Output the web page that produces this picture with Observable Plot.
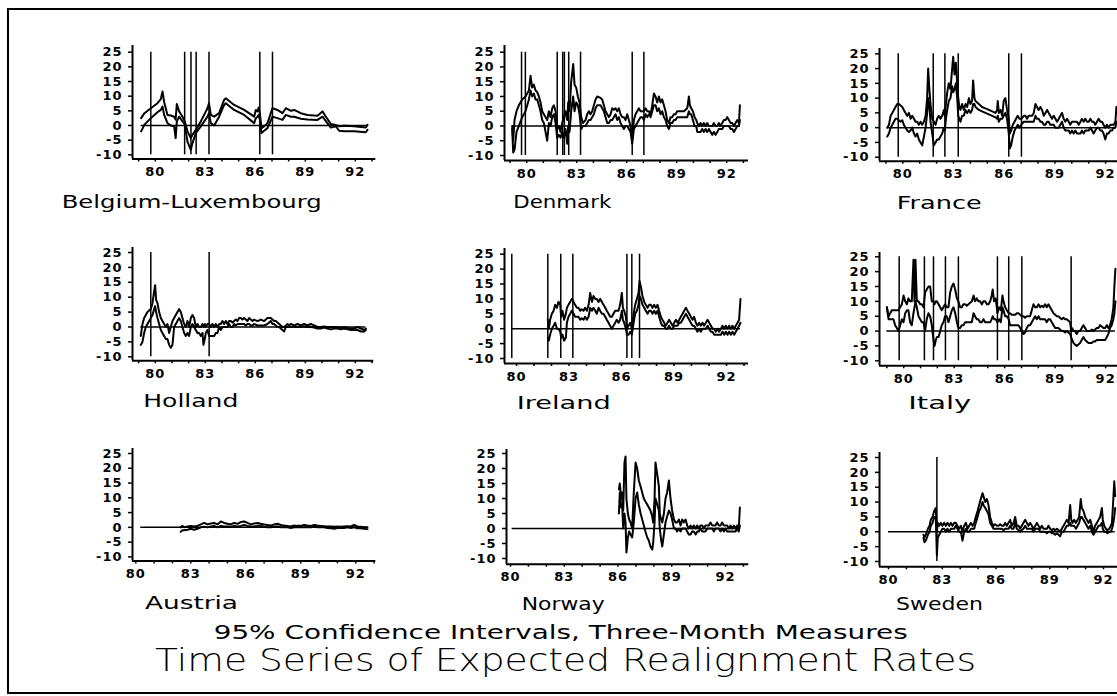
<!DOCTYPE html>
<html>
<head>
<meta charset="utf-8">
<script src="https://cdn.jsdelivr.net/npm/d3@7"></script>
<script src="https://cdn.jsdelivr.net/npm/@observablehq/plot@0.6"></script>
<style>
html, body { margin: 0; padding: 0; background: #fff; }
#page { position: relative; width: 1117px; height: 696px; overflow: hidden; background: #fff; }
#page svg { position: absolute; }
</style>
</head>
<body>
<div id="page"></div>
<script>
// ---------- DATA: rows are [year, lower bound, upper bound] ----------
const belgium = [[1979.15,-2.0,2.5],[1979.35,0.3,4.2],[1979.73,2.5,5.9],[1980.13,4.5,7.6],[1980.33,5.3,9.0],[1980.43,6.5,11.6],[1980.53,3.6,8.0],[1980.73,0.8,3.6],[1980.93,0.0,3.4],[1981.13,-0.3,3.0],[1981.22,-4.3,2.0],[1981.29,1.4,7.3],[1981.43,3.0,4.8],[1981.63,1.4,3.0],[1981.76,0.5,1.5],[1981.93,-5.5,-2.0],[1982.13,-8.3,-4.3],[1982.23,-6.0,-3.2],[1982.43,-2.6,-1.5],[1982.73,-0.3,1.4],[1983.13,3.0,5.9],[1983.22,4.2,7.6],[1983.33,0.8,3.6],[1983.53,0.0,3.0],[1983.83,3.0,4.2],[1984.13,7.0,8.8],[1984.23,7.6,9.3],[1984.73,5.3,7.0],[1985.33,3.6,5.3],[1985.93,0.8,3.0],[1986.03,2.5,5.3],[1986.13,3.0,4.8],[1986.2,3.6,6.1],[1986.27,2.0,4.2],[1986.37,-2.6,-0.9],[1986.53,-1.8,-0.3],[1986.73,-0.9,0.8],[1987.03,3.0,5.9],[1987.33,2.5,5.3],[1987.63,1.9,4.2],[1987.83,3.6,5.9],[1988.13,3.0,5.0],[1988.33,3.0,5.3],[1988.73,2.3,4.2],[1989.13,2.0,3.6],[1989.73,1.9,3.3],[1990.03,3.0,4.8],[1990.23,1.5,3.0],[1990.53,-0.7,0.5],[1990.83,-0.3,0.2],[1991.03,-1.8,-0.3],[1991.33,-2.0,-0.1],[1991.93,-2.0,-0.3],[1992.63,-2.3,-0.7],[1992.73,-1.5,0.2]];

const denmark = [[1979.13,-1,0],[1979.19,-9,-5],[1979.27,-8,2],[1979.39,-2,5],[1979.53,0,7],[1979.73,3,9],[1979.93,5,10],[1980.13,9,12],[1980.23,12,17],[1980.33,10,13],[1980.43,11,14],[1980.53,9,12],[1980.63,9,11.5],[1980.73,7,10],[1980.83,5,8],[1980.93,2,5],[1981.03,1,4],[1981.13,-2,3],[1981.23,-5,2],[1981.33,1,5],[1981.43,0,3],[1981.53,3,6],[1981.63,4,7],[1981.73,1,5],[1981.83,-4,-1],[1981.93,-3,0],[1982.03,-4,-2],[1982.13,-2,1],[1982.23,-4,3],[1982.33,-1,5],[1982.43,-6,2],[1982.49,0,8],[1982.57,-2,5],[1982.67,5,15],[1982.79,10,21],[1982.87,5,14],[1982.97,8,13],[1983.07,7,10],[1983.17,4,8],[1983.27,-1,3],[1983.37,0,1],[1983.53,0,2],[1983.63,1,4],[1983.73,2,5],[1983.83,2,4],[1983.93,3,5],[1984.03,4,7],[1984.13,6,9],[1984.23,7,10],[1984.43,7,9.5],[1984.53,6,9],[1984.63,5,7],[1984.73,3,5],[1984.83,1,4],[1984.93,1,3],[1985.03,2,4],[1985.13,2,6],[1985.23,3,5.5],[1985.33,4,6],[1985.43,2,5],[1985.53,3,6],[1985.63,1,4],[1985.73,0,3],[1985.83,-1,3],[1985.93,0,2],[1986.03,0,4],[1986.13,-1,2],[1986.23,-2,0],[1986.33,-6,-4],[1986.43,-1,2],[1986.53,0,4],[1986.63,1,5],[1986.73,2,6],[1986.83,3,5],[1986.93,3,5],[1987.03,2,5],[1987.13,4,6],[1987.23,3,5],[1987.33,4,5],[1987.43,3,4],[1987.53,5,7],[1987.63,7,11],[1987.73,7,10],[1987.83,5,8],[1987.93,6,10],[1988.03,4,8],[1988.13,5,9],[1988.23,3,7],[1988.33,2,5],[1988.43,0,2],[1988.53,-1,1],[1988.63,1,3],[1988.73,1,3],[1988.83,2,4],[1988.93,2,4],[1989.03,3,5],[1989.23,3,5],[1989.43,3,5],[1989.63,3,6],[1989.73,5,10],[1989.79,4,7],[1989.87,4,6],[1989.97,2,5],[1990.07,0,3],[1990.17,0,2],[1990.23,-2,1],[1990.33,-2,0],[1990.43,-2,1],[1990.53,-1,0],[1990.63,-2,1],[1990.73,-1,0],[1990.83,-2,1],[1990.93,-1,0],[1991.03,-2,0],[1991.13,-3,0],[1991.23,-2,1],[1991.33,-3,0],[1991.43,-2,0],[1991.53,-1,1],[1991.63,-1,0],[1991.73,-1,1],[1991.83,0,2],[1991.93,0,2],[1992.03,0,3],[1992.13,0,2],[1992.23,-1,1],[1992.33,-1,1],[1992.43,-2,0],[1992.53,-1,1],[1992.63,0,2],[1992.73,0,1],[1992.79,2,7]];

const france = [[1979.08,-3,0],[1979.18,-2,1],[1979.28,0,4],[1979.38,1,5],[1979.47,2,6],[1979.57,3,7],[1979.67,3,8],[1979.77,2.5,8],[1979.87,2,7.5],[1979.97,2.5,7],[1980.06,1,6],[1980.16,0,5],[1980.26,-1,4],[1980.36,-1.5,5],[1980.46,-1,3],[1980.56,0,4],[1980.66,-2,3],[1980.75,-3,2],[1980.85,-2,2],[1980.95,-4,1],[1981.05,-5,2],[1981.15,-6,1],[1981.25,-3,2],[1981.35,0,4],[1981.44,5,10],[1981.50,10,20],[1981.56,8,14],[1981.64,2,8],[1981.74,-2,3],[1981.84,-6,2],[1981.94,-5,1],[1982.03,-4,3],[1982.13,-4,4],[1982.23,-3,3],[1982.33,-2,4],[1982.43,0,6],[1982.49,-1,4],[1982.55,3,8],[1982.63,6,12],[1982.72,9,15],[1982.82,10,13],[1982.92,14,20],[1982.98,12,24],[1983.06,13,18],[1983.14,15,22],[1983.22,10,15],[1983.28,4,10],[1983.35,3,7],[1983.41,2,6],[1983.51,4,8],[1983.61,4,6],[1983.71,6,8],[1983.81,5,7],[1983.91,6,10],[1984.00,5,8],[1984.10,6,9],[1984.16,8,16],[1984.24,8,10],[1984.30,7,9],[1984.50,6,8],[1984.69,5.5,7],[1984.89,5,6.5],[1985.09,4.5,6],[1985.29,4,5.5],[1985.48,3.5,5],[1985.58,3,6],[1985.62,4,9],[1985.68,2,5],[1985.78,3,6],[1985.88,3,4],[1985.97,4,9],[1986.07,5,10],[1986.17,3,6],[1986.27,-2,3],[1986.33,-7,-2],[1986.41,-6,-1],[1986.51,-3,1],[1986.61,-1,2],[1986.70,0,3],[1986.80,1,4],[1986.90,0,3],[1987.02,1,3],[1987.16,2,4],[1987.26,2,4],[1987.35,2,3],[1987.45,2,4],[1987.55,2,4],[1987.65,2,4],[1987.75,2,5],[1987.85,4,8],[1987.94,3,7],[1988.04,3,6],[1988.14,2,7],[1988.24,2,6],[1988.34,1,4],[1988.44,1,5],[1988.54,2,6],[1988.63,2,5],[1988.73,1,4],[1988.83,1,3],[1988.93,1,4],[1989.03,0,3],[1989.13,0,2],[1989.23,0,3],[1989.32,1,4],[1989.42,2,5],[1989.52,0,3],[1989.62,-1,2],[1989.72,-1,3],[1989.82,-1,2],[1989.91,-2,1],[1990.01,-1,2],[1990.11,-2,2],[1990.21,-1,2],[1990.31,-2,2],[1990.41,-2,1],[1990.51,-2,2],[1990.60,-1,3],[1990.70,-2,2],[1990.80,-1,3],[1990.90,-1,2],[1991.00,-1,2],[1991.10,0,3],[1991.20,-1,2],[1991.29,-2,2],[1991.39,-1,1],[1991.49,0,2],[1991.59,0,3],[1991.69,-1,2],[1991.79,-1,2],[1991.88,-2,1],[1991.98,-4,0],[1992.08,-2,1],[1992.18,-2,0],[1992.28,-1,1],[1992.38,-1,1],[1992.48,0,1],[1992.58,0,2],[1992.64,2,7]];

const holland = [[1979.13,-6,-3],[1979.23,-5,1],[1979.33,-2,3],[1979.43,0,4],[1979.53,1,5],[1979.63,2,5.5],[1979.73,3,6],[1979.83,4,8],[1979.93,6,12],[1979.99,7,14],[1980.05,5,9],[1980.13,3,8],[1980.23,1,5],[1980.33,-1,3],[1980.43,-2,2],[1980.53,-3,1],[1980.63,-4,0],[1980.73,-4,1],[1980.83,-6,-2],[1980.93,-7,0],[1981.03,-6,2],[1981.13,0,3],[1981.23,1,4],[1981.33,2,5],[1981.43,3,6],[1981.53,2,5],[1981.63,0,3],[1981.73,-2,1],[1981.83,-3,0],[1981.93,-2,2],[1982.03,-3,0],[1982.13,0,3],[1982.23,1,4],[1982.33,0,3],[1982.43,-1,0],[1982.53,-2,1],[1982.63,-2,0],[1982.73,-3,0],[1982.83,-2,1],[1982.89,-6,0],[1982.97,-4,1],[1983.03,-2,0],[1983.13,-1,1],[1983.23,-3,1],[1983.33,-3,0],[1983.43,-3,1],[1983.53,-3,0],[1983.63,-2,1],[1983.73,-2,0],[1983.83,0,1],[1983.93,-1,1],[1984.03,0,2],[1984.13,0,1],[1984.23,0,2],[1984.33,0,1],[1984.43,1,2],[1984.53,0,2],[1984.63,0,1.5],[1984.73,1,2],[1984.83,0.5,2.5],[1984.93,1,2],[1985.03,1,3],[1985.13,1,3],[1985.23,1,2.5],[1985.33,1,3],[1985.43,0.5,2.5],[1985.53,1,2],[1985.63,1,3],[1985.73,0.5,2.5],[1985.83,0.5,2],[1985.93,1,2.5],[1986.13,0.5,2],[1986.33,0.5,2.5],[1986.53,0.5,2],[1986.73,1,3],[1986.83,1.5,3],[1986.93,2,3],[1987.03,1,2.5],[1987.13,1,2],[1987.23,0.5,2],[1987.33,0,1.5],[1987.43,0,1],[1987.53,-0.5,0.5],[1987.63,-1,0],[1987.73,-1.5,0],[1987.83,0,0.5],[1987.93,0,1],[1988.03,0,0.5],[1988.13,0,1],[1988.33,0,0.5],[1988.53,0,1],[1988.73,0,0.5],[1988.93,0.2,1],[1989.13,0,0.5],[1989.33,0,1],[1989.53,-0.2,0.5],[1989.73,-0.5,0],[1989.93,-0.5,0],[1990.13,-0.2,0.2],[1990.33,-0.5,0],[1990.53,-0.8,0],[1990.73,-0.5,0],[1990.93,-0.5,0],[1991.13,-0.8,-0.3],[1991.33,-0.5,0],[1991.53,-0.8,-0.3],[1991.73,-1,-0.5],[1991.93,-1,-0.5],[1992.13,-1,0],[1992.33,-1.5,-0.5],[1992.53,-1.5,-1],[1992.63,-1,-0.5]];

const ireland = [[1981.79,-3,3],[1981.85,-4,0],[1981.92,-2,3],[1982.02,0,5],[1982.12,1,6],[1982.21,2,8],[1982.31,0,7],[1982.40,0,9],[1982.50,-1,8],[1982.55,-3,4],[1982.63,-2,6],[1982.72,-4,3],[1982.82,-3,5],[1982.88,2,7],[1982.97,4,8],[1983.07,5,9],[1983.16,6,10],[1983.26,5,9],[1983.35,4,8],[1983.45,4,7],[1983.54,4,7],[1983.64,3,6],[1983.73,3.5,6.5],[1983.83,3,6],[1983.92,4,7],[1984.02,3,6],[1984.12,4,8],[1984.21,7,12],[1984.31,6,9],[1984.40,7,11],[1984.50,6,10],[1984.59,5,10],[1984.69,7,9],[1984.78,6,10],[1984.88,5,9],[1984.97,5,8],[1985.07,4,7],[1985.16,3,6],[1985.26,2,5],[1985.35,1,4],[1985.45,0,4],[1985.54,1,5],[1985.64,2,6],[1985.73,3,6],[1985.83,2,6],[1985.92,3,8],[1986.02,6,12],[1986.08,3,7],[1986.15,2,6],[1986.25,0,4],[1986.31,-2,0],[1986.40,-2,1],[1986.50,-1,2],[1986.59,-2,0],[1986.69,2,5],[1986.78,5,8],[1986.88,6,10],[1986.97,8,12],[1987.03,11,16],[1987.11,10,14],[1987.20,8,11],[1987.30,7,9],[1987.39,6,8],[1987.49,5,7],[1987.58,6,8],[1987.68,6,8],[1987.77,5,7],[1987.87,6,8],[1987.96,5,7],[1988.06,6,8],[1988.15,4,6],[1988.25,2,4],[1988.34,1,3],[1988.44,1,2],[1988.53,0,1],[1988.63,0,2],[1988.72,1,3],[1988.82,0,2],[1988.92,0,1],[1989.01,1,2],[1989.11,1,3],[1989.20,1,2],[1989.30,2,3],[1989.39,2,4],[1989.49,3,5],[1989.58,4,6],[1989.68,5,7],[1989.77,4,6],[1989.87,3,5],[1989.96,2,4],[1990.06,1,3],[1990.15,1,4],[1990.25,0,2],[1990.34,-1,1],[1990.44,0,2],[1990.53,-1,1],[1990.63,0,2],[1990.72,0,1],[1990.82,0,2],[1990.92,1,3],[1991.01,0,2],[1991.11,-1,1],[1991.20,-1,0],[1991.30,-2,0],[1991.39,-2,-1],[1991.49,-2,0],[1991.58,-2,-1],[1991.68,-2,0],[1991.77,-1,1],[1991.87,-2,0],[1991.96,-1,1],[1992.06,-2,0],[1992.15,-1,1],[1992.25,-2,0],[1992.34,-1,1],[1992.44,-2,0],[1992.53,-1,1],[1992.63,0,2],[1992.72,1,3],[1992.80,2,10]];

const italy = [[1979.00,8,8],[1979.10,4,5],[1979.20,4,6],[1979.29,4,7],[1979.39,4,7],[1979.49,2,7],[1979.59,1,7],[1979.69,0,7],[1979.79,2,8],[1979.89,4,9],[1979.99,3,12],[1980.09,6,10],[1980.19,7,9],[1980.28,7,11],[1980.38,3,10],[1980.48,2,10],[1980.58,6,24],[1980.64,8,10],[1980.70,10,24],[1980.78,8,10],[1980.88,5,10],[1980.98,4,9],[1981.08,3,9],[1981.18,3,8],[1981.27,0,13],[1981.37,4,14],[1981.47,6,15],[1981.57,5,15],[1981.67,2,10],[1981.77,-3,10],[1981.83,-5,9],[1981.91,-3,10],[1981.97,-2,10],[1982.07,-2,9],[1982.17,0,8],[1982.26,2,7],[1982.36,3,8],[1982.46,5,9],[1982.56,5,8],[1982.66,3,8],[1982.76,5,13],[1982.86,7,15],[1982.96,8,16],[1983.06,6,14],[1983.16,3,11],[1983.25,1,10],[1983.35,1,8],[1983.45,2,8],[1983.55,2,9],[1983.65,3,9],[1983.75,3,8.5],[1983.85,3,9],[1983.95,3,9.5],[1984.05,3,10],[1984.15,6,12],[1984.24,5,10],[1984.34,4,11],[1984.44,4,10],[1984.54,3,10],[1984.64,3,9],[1984.74,4,10],[1984.84,3,10],[1984.94,3,9],[1985.04,3,9],[1985.14,3,10],[1985.23,4,12],[1985.29,5,14],[1985.37,4,10],[1985.47,4,11],[1985.57,3,6],[1985.67,4,8],[1985.77,3,7],[1985.87,8,12],[1985.93,7,10],[1986.03,5,8],[1986.13,5,7],[1986.24,4,6],[1986.32,2,6],[1986.42,2,5.5],[1986.52,2,5.5],[1986.62,2,5.5],[1986.72,2,6],[1986.82,2,6],[1986.92,1,5.5],[1987.02,0,5],[1987.12,-1,5],[1987.21,-0.5,4.5],[1987.31,1,5],[1987.41,2,5],[1987.51,2,5],[1987.61,3,7],[1987.71,4,9],[1987.81,5,8],[1987.91,4,8],[1988.01,5,9],[1988.11,4,8],[1988.20,4,8.5],[1988.30,4,8],[1988.40,4,9],[1988.50,3,8],[1988.60,4,9],[1988.70,4,8],[1988.80,3,7],[1988.90,2,6],[1989.00,1,5.5],[1989.10,1,5],[1989.19,1,5],[1989.29,0.5,4.5],[1989.39,0,4],[1989.49,0,4.5],[1989.59,-0.5,4],[1989.69,0,4],[1989.79,-0.5,3.5],[1989.89,-1,3],[1989.95,-2,0],[1990.01,-3,1],[1990.09,-4,0],[1990.18,-4.5,0],[1990.28,-5,-1],[1990.38,-4.5,0],[1990.48,-4,0],[1990.58,-3,1],[1990.68,-2,2],[1990.78,-3,1],[1990.88,-3.5,0],[1990.98,-4,0],[1991.08,-4,0],[1991.17,-4,0.5],[1991.27,-3.5,0],[1991.37,-3.5,0.5],[1991.47,-3,1],[1991.57,-3,1],[1991.67,-3,2],[1991.77,-3,1.5],[1991.87,-3,1],[1991.97,-3,1],[1992.07,-2,2],[1992.16,-1,1],[1992.26,1,2],[1992.36,2,4],[1992.46,4,8],[1992.52,6,15],[1992.58,10,21]];

const austria = [[1982.45,-1.5,0],[1982.55,-1,0.5],[1982.64,-1,0],[1982.82,-0.8,0.3],[1983.00,-0.5,0.5],[1983.18,-0.8,0.3],[1983.36,-0.5,0.5],[1983.55,0,1],[1983.73,0.2,1.5],[1983.91,0,1],[1984.09,0.3,1.3],[1984.27,0.5,1.5],[1984.45,0,1],[1984.64,0.5,2],[1984.82,0.3,1.5],[1985.00,0.3,1.2],[1985.18,0.2,1],[1985.36,0.5,1.5],[1985.55,0.3,1.2],[1985.73,0.5,1.8],[1985.91,0.8,2],[1986.09,0.5,1.5],[1986.27,0.3,1],[1986.45,0.3,1.3],[1986.64,0.5,1.5],[1986.82,0.5,1.2],[1987.00,0.2,1],[1987.18,0,0.8],[1987.36,0,0.6],[1987.55,0.2,1],[1987.73,0.3,1.2],[1987.91,0,0.8],[1988.09,0,0.6],[1988.27,0,0.5],[1988.45,-0.2,0.3],[1988.64,0,0.6],[1988.82,0,0.5],[1989.00,0,0.5],[1989.18,0,0.8],[1989.36,0,0.6],[1989.55,0,0.5],[1989.73,0.2,0.8],[1989.91,0,0.6],[1990.09,0,0.5],[1990.27,0,0.4],[1990.45,-0.2,0.3],[1990.64,-0.3,0.3],[1990.82,-0.5,0.2],[1991.00,-0.2,0.3],[1991.18,-0.2,0.2],[1991.36,-0.2,0.3],[1991.55,0,0.4],[1991.73,-0.2,0.3],[1991.91,0,0.8],[1992.09,-0.3,0.3],[1992.27,-0.3,0.2],[1992.45,-0.5,0],[1992.64,-0.6,0]];

const norway = [[1986.05,5,13],[1986.10,12,15],[1986.18,7,10],[1986.23,8,12],[1986.29,0,6],[1986.36,5,22],[1986.42,2,24],[1986.47,-8,10],[1986.55,-3,5],[1986.62,-1,3],[1986.70,-2,2],[1986.79,-3,0],[1986.88,2,12],[1986.98,10,22],[1987.07,12,20],[1987.16,8,16],[1987.26,5,14],[1987.35,3,12],[1987.44,1,10],[1987.53,-1,9],[1987.63,-3,8],[1987.72,-4,7],[1987.81,-6,6],[1987.91,-7,4],[1987.96,-5,2],[1988.04,2,10],[1988.09,10,22],[1988.19,8,18],[1988.28,6,14],[1988.33,0,5],[1988.41,-4,3],[1988.47,-6,2],[1988.56,-2,5],[1988.65,2,10],[1988.74,4,12],[1988.84,6,16],[1988.93,5,10],[1989.02,3,6],[1989.12,0,3],[1989.21,0,2],[1989.30,-1,2],[1989.40,0,3],[1989.49,-1,1],[1989.58,0,3],[1989.67,0,2],[1989.77,0,3],[1989.86,-1,1],[1989.95,-2,0],[1990.05,-2,1],[1990.14,-1,0],[1990.23,-1,1],[1990.33,-2,0],[1990.42,-1,1],[1990.51,-1,0],[1990.60,0,1],[1990.70,-1,1],[1990.79,-1,0],[1990.88,-1,1],[1990.98,0,1],[1991.07,0,1],[1991.16,0,2],[1991.26,0,1],[1991.35,-1,1],[1991.44,0,1],[1991.53,0,2],[1991.63,0,1],[1991.72,-1,1],[1991.81,0,2],[1991.91,-1,1],[1992.00,0,1],[1992.09,-1,1],[1992.19,-1,0],[1992.28,-1,1],[1992.37,-1,0],[1992.47,-1,1],[1992.56,-1,0],[1992.65,0,1],[1992.74,-1,0],[1992.80,1,7]];

const sweden = [[1981.95,-2,-1],[1982.01,-3.5,-2],[1982.08,-3,-1],[1982.14,-2,0],[1982.20,-1,1],[1982.29,0,2],[1982.36,2,4],[1982.46,3,5],[1982.55,5,7],[1982.64,5,8],[1982.70,-8,0],[1982.75,-2,3],[1982.83,-1,2],[1982.92,0,3],[1983.01,1,2],[1983.11,1,3],[1983.20,0,2],[1983.29,1,3],[1983.39,0,2],[1983.48,1,3],[1983.57,1,2],[1983.67,1,3],[1983.76,2,3],[1983.85,1,2],[1983.94,0,1],[1984.04,0,2],[1984.13,-3,0],[1984.22,0,2],[1984.32,1,3],[1984.41,0,1],[1984.50,0,2],[1984.60,1,3],[1984.69,1,2],[1984.78,1,3],[1984.87,3,5],[1984.97,5,7],[1985.06,7,9],[1985.15,8,11],[1985.25,10,13],[1985.30,9,12],[1985.40,8,10],[1985.49,7,11],[1985.58,6,9],[1985.67,3,5],[1985.77,2,3],[1985.86,1,2],[1985.95,1,2.5],[1986.05,1,2],[1986.14,1,2],[1986.23,1,2.5],[1986.33,1,2],[1986.42,0.5,2],[1986.51,1,3],[1986.60,1,2],[1986.70,1,3],[1986.79,2,4],[1986.88,1,2],[1986.98,1,3],[1987.07,3,5],[1987.16,1,2],[1987.26,0.5,2],[1987.35,0,1],[1987.44,0.5,2],[1987.53,1,3],[1987.63,2,4],[1987.72,1,3],[1987.81,1,2],[1987.91,1,3],[1988.00,1,2],[1988.09,0,1],[1988.19,1,2],[1988.28,1,3],[1988.37,1,2],[1988.47,0,1],[1988.56,0,2],[1988.65,0,1],[1988.74,0,1],[1988.84,-0.5,1],[1988.93,0,2],[1989.02,0,1],[1989.12,-0.5,0.5],[1989.21,-0.5,1],[1989.30,-1,0.5],[1989.40,-0.5,1],[1989.49,-1,0.5],[1989.58,-1.5,0],[1989.67,0,1],[1989.77,0,2],[1989.86,1,3],[1989.95,2,4],[1990.05,2,3],[1990.14,3,9],[1990.20,2,4],[1990.27,2,3],[1990.36,2,4],[1990.46,1,3],[1990.55,2,4],[1990.64,3,5],[1990.73,5,11],[1990.79,5,8],[1990.88,4,7],[1990.98,3,5],[1991.07,2,4],[1991.16,1,3],[1991.26,2,4],[1991.35,0,2],[1991.44,-1,0],[1991.53,0,2],[1991.63,1,3],[1991.72,2,4],[1991.81,2,5],[1991.91,3,8],[1991.96,1,4],[1992.04,0,2],[1992.13,0,1],[1992.22,-0.5,0.5],[1992.32,0,1],[1992.41,0,2],[1992.47,1,3],[1992.52,2,8],[1992.60,5,17],[1992.65,8,12]];

// realignment dates (vertical lines)
const belgiumRealign = [1979.73, 1981.76, 1982.14, 1982.45, 1983.22, 1986.27, 1987.03];
const denmarkRealign = [1979.69, 1979.92, 1981.83, 1982.16, 1982.26, 1982.52, 1983.23, 1986.33, 1987.03];
const franceRealign  = [1979.73, 1981.80, 1982.49, 1983.28, 1986.27, 1987.02];
const hollandRealign = [1979.73, 1983.23];
const irelandRealign = [1979.73, 1981.79, 1982.53, 1983.22, 1986.31, 1986.59, 1987.03];
const italyRealign   = [1979.73, 1981.23, 1981.77, 1982.48, 1983.25, 1985.57, 1986.24, 1987.02, 1989.95];
const swedenRealign  = [1982.70];

// where the zero reference line begins (when earlier than the data)
const zeroStart = {Ireland: 1979.73, Austria: 1980.27, Norway: 1980.09, Sweden: 1980.0};

// tick values and labels
const yearLabels = [1980, 1983, 1986, 1989, 1992];
const minorYears = [1979, 1980, 1981, 1982, 1983, 1984, 1985, 1986, 1987, 1988, 1989, 1990, 1991, 1992, 1993];
const yTicks = [-10, -5, 0, 5, 10, 15, 20, 25];
const panelNames = ["Belgium-Luxembourg", "Denmark", "France", "Holland", "Ireland", "Italy", "Austria", "Norway", "Sweden"];
const subtitle = "95% Confidence Intervals, Three-Month Measures";
const title = "Time Series of Expected Realignment Rates";

// ---------- LAYOUT (page pixels) ----------
const layout = [
  {key: "Belgium",  data: belgium, lines: belgiumRealign, axisX: 131.7, top: 45,    y25: 51.7,  y10: 154.3, bottom: 158.5, right: 375,   x80: 154.5, ppy: 16.67, lx: 61.7,  ly: 208.3, lw: 260},
  {key: "Denmark",  data: denmark, lines: denmarkRealign, axisX: 504,   top: 45,    y25: 51.7,  y10: 155,   bottom: 160,   right: 748,   x80: 526.2, ppy: 16.67, lx: 513.3, ly: 207.5, lw: 98},
  {key: "France",   data: france,  lines: franceRealign,  axisX: 879,   top: 48,    y25: 53.3,  y10: 156.7, bottom: 160.7, right: 1125,  x80: 902.3, ppy: 16.9,  lx: 896.7, ly: 209,   lw: 85},
  {key: "Holland",  data: holland, lines: hollandRealign, axisX: 131.7, top: 246.7, y25: 251.7, y10: 356,   bottom: 360,   right: 373,   x80: 154.5, ppy: 16.67, lx: 143.3, ly: 406.7, lw: 95},
  {key: "Ireland",  data: ireland, lines: irelandRealign, axisX: 504.3, top: 248.3, y25: 254,   y10: 358.3, bottom: 363.3, right: 748.3, x80: 516.3, ppy: 17.5,  lx: 516.7, ly: 408.5, lw: 94},
  {key: "Italy",    data: italy,   lines: italyRealign,   axisX: 879.3, top: 251.7, y25: 256,   y10: 360,   bottom: 365,   right: 1125,  x80: 903.5, ppy: 16.83, lx: 908.3, ly: 408.5, lw: 63},
  {key: "Austria",  data: austria, lines: [],             axisX: 131.7, top: 448.3, y25: 453.3, y10: 556.7, bottom: 560.7, right: 375,   x80: 135,   ppy: 18.33, lx: 145,   ly: 608.5, lw: 93},
  {key: "Norway",   data: norway,  lines: [],             axisX: 506,   top: 449.3, y25: 453.3, y10: 558.3, bottom: 564,   right: 748.3, x80: 510,   ppy: 17.92, lx: 521.7, ly: 609.5, lw: 83},
  {key: "Sweden",   data: sweden,  lines: swedenRealign,  axisX: 879.3, top: 451.7, y25: 456.7, y10: 560.7, bottom: 566,   right: 1125,  x80: 888.3, ppy: 17.92, lx: 896,   ly: 609.5, lw: 87}
];

const page = document.getElementById("page");
const NS = "http://www.w3.org/2000/svg";

// overlay: frame + labels + titles
const ov = document.createElementNS(NS, "svg");
ov.setAttribute("width", 1117); ov.setAttribute("height", 696);
ov.style.left = "0px"; ov.style.top = "0px";
const frame = document.createElementNS(NS, "rect");
frame.setAttribute("x", 8); frame.setAttribute("y", 9);
frame.setAttribute("width", 1200); frame.setAttribute("height", 684);
frame.setAttribute("fill", "none"); frame.setAttribute("stroke", "#000"); frame.setAttribute("stroke-width", 2);
ov.appendChild(frame);
function addText(str, x, y, size, len, weight) {
  const t = document.createElementNS(NS, "text");
  t.setAttribute("x", x); t.setAttribute("y", y);
  t.setAttribute("font-family", "'DejaVu Sans', sans-serif");
  t.setAttribute("font-size", size);
  t.setAttribute("font-weight", weight);
  t.setAttribute("fill", "#000");
  t.setAttribute("textLength", len);
  t.setAttribute("lengthAdjust", "spacingAndGlyphs");
  t.textContent = str;
  ov.appendChild(t);
}
layout.forEach((L, i) => addText(panelNames[i], L.lx, L.ly, 18, L.lw, 400));
addText(subtitle, 213.7, 638.5, 19, 694, 400);
addText(title, 155, 670.5, 32, 821, 200);
page.appendChild(ov);

// panels
const mL = 40, mR = 4, mT = 2, mB = 28;
layout.forEach((L) => {
  const ppu = (L.y10 - L.y25) / 35;
  const x0 = 1980 - (L.x80 - L.axisX) / L.ppy;
  const x1 = 1980 + (L.right - L.x80) / L.ppy;
  const yMin = -10 - (L.bottom - L.y10) / ppu;
  const yMax = 25 + (L.y25 - L.top) / ppu;
  const width = mL + (L.right - L.axisX) + mR;
  const height = mT + (L.bottom - L.top) + mB;
  const rows = L.data.map(([t, lo, hi]) => ({t, lo, hi}));
  const zFrom = zeroStart[L.key] ?? rows[0].t;
  const zTo = rows[rows.length - 1].t;
  const minor = minorYears.filter(y => y >= x0 && y <= x1);
  const chart = Plot.plot({
    width, height,
    marginLeft: mL, marginRight: mR, marginTop: mT, marginBottom: mB,
    x: {domain: [x0, x1], label: null},
    y: {domain: [yMin, yMax], label: null},
    style: {fontFamily: "'DejaVu Sans', sans-serif", fontSize: "13px", fontWeight: "bold", letterSpacing: "1px", color: "#000", background: "transparent", overflow: "visible"},
    marks: [
      Plot.axisY({ticks: yTicks, tickSize: 4, tickPadding: 6, tickFormat: d => String(d), label: null, strokeWidth: 1.5}),
      Plot.axisX({ticks: minor, tickSize: 3, tickFormat: () => "", label: null, strokeWidth: 1.5}),
      Plot.axisX({ticks: yearLabels, tickSize: 0, tickPadding: 8, tickFormat: d => String(d).slice(2), label: null}),
      Plot.ruleX([x0], {stroke: "#000", strokeWidth: 2}),
      Plot.ruleY([yMin], {stroke: "#000", strokeWidth: 2}),
      Plot.ruleY([0], {x1: zFrom, x2: zTo, stroke: "#000", strokeWidth: 1.5}),
      Plot.ruleX(L.lines, {y1: -10, y2: 25, stroke: "#000", strokeWidth: 1.5}),
      Plot.line(rows, {x: "t", y: "hi", stroke: "#000", strokeWidth: 2, strokeLinejoin: "round"}),
      Plot.line(rows, {x: "t", y: "lo", stroke: "#000", strokeWidth: 2, strokeLinejoin: "round"})
    ]
  });
  chart.style.left = (L.axisX - mL) + "px";
  chart.style.top = (L.top - mT) + "px";
  page.appendChild(chart);
});
</script>
</body>
</html>
